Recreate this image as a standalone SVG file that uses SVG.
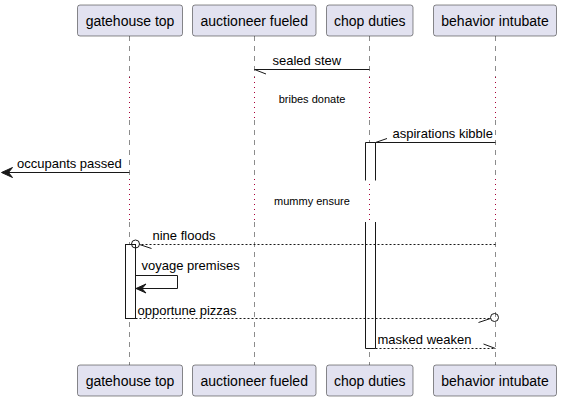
<svg xmlns="http://www.w3.org/2000/svg" width="562" height="402" viewBox="0 0 562 402">
<defs>
<style>
.part rect{fill:#E2E2F0;stroke:#181818;stroke-width:0.5}
.part text{font-family:"Liberation Sans",Arial,sans-serif;font-size:14px;fill:#000;text-anchor:middle}
.life{stroke:#181818;stroke-width:0.5;stroke-dasharray:5,5;fill:none}
.delay{stroke:#A80036;stroke-width:1;stroke-dasharray:1,4;fill:none}
.msg{stroke:#181818;stroke-width:1;fill:none}
.dash{stroke-dasharray:2,2}
.lbl{font-family:"Liberation Sans",Arial,sans-serif;font-size:13px;fill:#000}
.dlbl{font-family:"Liberation Sans",Arial,sans-serif;font-size:11px;fill:#000;text-anchor:middle}
.act{fill:#FFFFFF;stroke:#181818;stroke-width:1}
.head{fill:#181818;stroke:#181818;stroke-width:1}
</style>
</defs>
<g id="lifelines">
<path class="life" d="M129.5,36 V77 M129.5,120 V179 M129.5,222 V365"/>
<path class="life" d="M254.5,36 V77 M254.5,120 V179 M254.5,222 V365"/>
<path class="life" d="M369.5,36 V77 M369.5,120 V179 M369.5,222 V365"/>
<path class="life" d="M495.5,36 V77 M495.5,120 V179 M495.5,222 V365"/>
<path class="delay" d="M129.5,77 V120 M254.5,77 V120 M369.5,77 V120 M495.5,77 V120"/>
<path class="delay" d="M129.5,179 V222 M254.5,179 V222 M369.5,179 V222 M495.5,179 V222"/>
</g>
<g id="activations">
<path class="act" d="M365.5,180.5 V142.5 H375.5 V180.5"/>
<path class="act" d="M365.5,222 V348.5 H375.5 V222"/>
<rect class="act" x="125.5" y="244.5" width="10" height="74"/>
</g>
<g id="p1" class="part">
<rect x="77.5" y="5" width="105" height="31" rx="2.5"/>
<text x="130" y="25.5">gatehouse top</text>
<rect x="77.5" y="365" width="105" height="31" rx="2.5"/>
<text x="130" y="385.5">gatehouse top</text>
</g>
<g id="p2" class="part">
<rect x="192.5" y="5" width="123.5" height="31" rx="2.5"/>
<text x="254.25" y="25.5">auctioneer fueled</text>
<rect x="192.5" y="365" width="123.5" height="31" rx="2.5"/>
<text x="254.25" y="385.5">auctioneer fueled</text>
</g>
<g id="p3" class="part">
<rect x="326.5" y="5" width="86.5" height="31" rx="2.5"/>
<text x="369.75" y="25.5">chop duties</text>
<rect x="326.5" y="365" width="86.5" height="31" rx="2.5"/>
<text x="369.75" y="385.5">chop duties</text>
</g>
<g id="p4" class="part">
<rect x="433.5" y="5" width="123" height="31" rx="2.5"/>
<text x="495" y="25.5">behavior intubate</text>
<rect x="433.5" y="365" width="123" height="31" rx="2.5"/>
<text x="495" y="385.5">behavior intubate</text>
</g>
<g id="connectors">
<path class="msg" d="M369.5,69.5 H254.5 L266,74"/>
<text class="lbl" x="272.5" y="65">sealed stew</text>
<text class="dlbl" x="312" y="102.5">bribes donate</text>
<path class="msg" d="M495.5,142.5 H375.5 L387,138.5"/>
<text class="lbl" x="392.5" y="138">aspirations kibble</text>
<path class="msg" d="M129.5,172.5 H2"/>
<polygon class="head" points="1.5,172.5 12.5,167.5 8.5,172.5 12.5,177.5"/>
<text class="lbl" x="17" y="168">occupants passed</text>
<text class="dlbl" x="312" y="204.5">mummy ensure</text>
<path class="msg dash" d="M495.5,244.5 H139.5"/>
<path class="msg" d="M139.5,244.5 L151.5,248.5"/>
<circle class="msg" cx="135.5" cy="244" r="4"/>
<text class="lbl" x="152.5" y="239.5">nine floods</text>
<path class="msg" d="M135.5,275.5 H177.5 V288.5 H136.5"/>
<polygon class="head" points="136,288.5 146,284 142,288.5 146,293"/>
<text class="lbl" x="141.5" y="270">voyage premises</text>
<path class="msg dash" d="M135.5,318.5 H490.5"/>
<path class="msg" d="M490.5,318.5 L478.5,322.5"/>
<circle class="msg" cx="494.5" cy="317.5" r="4"/>
<text class="lbl" x="137.5" y="314.5">opportune pizzas</text>
<path class="msg dash" d="M375.5,348.5 H495.5"/>
<path class="msg" d="M495.5,348.5 L483.5,344"/>
<text class="lbl" x="377.5" y="344">masked weaken</text>
</g>
</svg>
